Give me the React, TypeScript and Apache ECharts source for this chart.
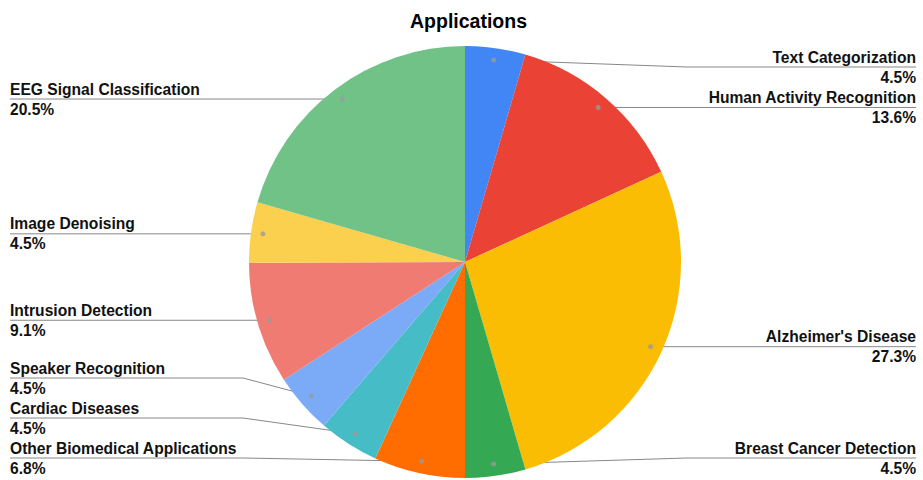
import React, { useEffect, useRef } from 'react';
import * as echarts from 'echarts';

const categories = [
  'Text Categorization',
  'Human Activity Recognition',
  "Alzheimer's Disease",
  'Breast Cancer Detection',
  'Other Biomedical Applications',
  'Cardiac Diseases',
  'Speaker Recognition',
  'Intrusion Detection',
  'Image Denoising',
  'EEG Signal Classification',
];
const shares = [4.5, 13.6, 27.3, 4.5, 6.8, 4.5, 4.5, 9.1, 4.5, 20.5];
const colors = [
  '#4285F4', '#EA4335', '#FBBC04', '#34A853', '#FF6D01',
  '#46BDC6', '#7BAAF7', '#F07B72', '#FCD04F', '#71C287',
];

const CX = 465;
const CY = 262;
const R = 216;
const DOT_R = 204;
const LABEL_TOP = 47;
const LABEL_BOTTOM = 2;
const LABEL_LEFT = 3;
const LINE_H = 20;
const LABEL_H = 2 * LINE_H;
const H = 480;
const FONT = '"Liberation Sans", Arial, Helvetica, sans-serif';

// Google-style label placement: each label sits at its anchor dot's height,
// clamped to the plot and stacked to avoid overlaps.
function computeLabelYs(total: number, mids: number[]): number[] {
  const ys: number[] = [];
  const left: number[] = [];
  const right: number[] = [];
  mids.forEach((m, i) => {
    const a = (m / total) * Math.PI * 2;
    const x = CX + DOT_R * Math.sin(a);
    ys[i] = CY - DOT_R * Math.cos(a);
    (x >= CX ? right : left).push(i);
  });
  const minY = LABEL_TOP + LABEL_H / 2;
  const maxY = H - LABEL_BOTTOM - LABEL_H / 2;
  [left, right].forEach((side) => {
    side.sort((a, b) => ys[a] - ys[b]);
    side.forEach((i) => {
      ys[i] = Math.min(maxY, Math.max(minY, ys[i]));
    });
    for (let k = side.length - 2; k >= 0; k--) {
      ys[side[k]] = Math.min(ys[side[k]], ys[side[k + 1]] - LABEL_H);
    }
    for (let k = 1; k < side.length; k++) {
      ys[side[k]] = Math.max(ys[side[k]], ys[side[k - 1]] + LABEL_H);
    }
  });
  return ys;
}

export default function App() {
  const ref = useRef<HTMLDivElement>(null);
  useEffect(() => {
    if (!ref.current) return;
    const chart = echarts.init(ref.current, undefined, { renderer: 'svg' });
    const total = shares.reduce((a, b) => a + b, 0);
    const mids: number[] = [];
    let acc = 0;
    shares.forEach((v) => {
      mids.push(acc + v / 2);
      acc += v;
    });
    const labelYs = computeLabelYs(total, mids);
    const data = categories.map((name, i) => ({ name, value: shares[i] }));
    chart.setOption({
      animation: false,
      backgroundColor: '#ffffff',
      title: {
        text: 'Applications',
        left: 405,
        top: 6,
        textStyle: { fontFamily: FONT, fontSize: 19.5, fontWeight: 'bold', color: '#000' },
      },
      polar: { center: [CX, CY], radius: DOT_R },
      angleAxis: { type: 'value', min: 0, max: total, startAngle: 90, clockwise: true, show: false },
      radiusAxis: { type: 'value', min: 0, max: 1, show: false },
      series: [
        {
          type: 'pie',
          center: [CX, CY],
          radius: R,
          startAngle: 90,
          clockwise: true,
          silent: true,
          label: { show: false },
          labelLine: { show: false },
          itemStyle: { borderWidth: 0 },
          data: data.map((d, i) => ({ ...d, itemStyle: { color: colors[i] } })),
        },
        {
          type: 'pie',
          left: LABEL_LEFT,
          right: 0,
          top: LABEL_TOP,
          bottom: LABEL_BOTTOM,
          center: [CX - LABEL_LEFT, CY - LABEL_TOP],
          radius: DOT_R,
          startAngle: 90,
          clockwise: true,
          silent: true,
          avoidLabelOverlap: true,
          itemStyle: { color: 'rgba(0,0,0,0)', borderWidth: 0 },
          label: {
            show: true,
            position: 'outside',
            alignTo: 'edge',
            edgeDistance: 7,
            fontFamily: FONT,
            fontSize: 15.6,
            fontWeight: 'bold',
            color: '#111',
            lineHeight: LINE_H,
            formatter: (p: any) => `${p.name}\n${Number(p.value).toFixed(1)}%`,
          },
          labelLine: {
            show: true,
            length: 0,
            length2: 0,
            lineStyle: { color: '#888', width: 1 },
          },
          labelLayout: (p: any) => {
            const pts = p.labelLinePoints;
            const r = p.labelRect;
            const y = labelYs[p.dataIndex];
            const right = r.x + r.width / 2 > CX;
            const bendX = right ? CX + R + 6 : CX - R - 6;
            const farX = right ? r.x + r.width : r.x;
            const out: any = { y, verticalAlign: 'middle' };
            if (pts) out.labelLinePoints = [pts[0], [bendX, y], [farX, y]];
            return out;
          },
          data,
        },
        {
          type: 'scatter',
          coordinateSystem: 'polar',
          silent: true,
          symbol: 'circle',
          symbolSize: 5,
          itemStyle: { color: '#9a9a9a' },
          data: mids.map((m) => [1, m]),
        },
      ],
    });
    return () => chart.dispose();
  }, []);
  return (
    <div
      ref={ref}
      style={{ position: 'absolute', left: 0, top: 0, width: 923, height: 480 }}
    />
  );
}
